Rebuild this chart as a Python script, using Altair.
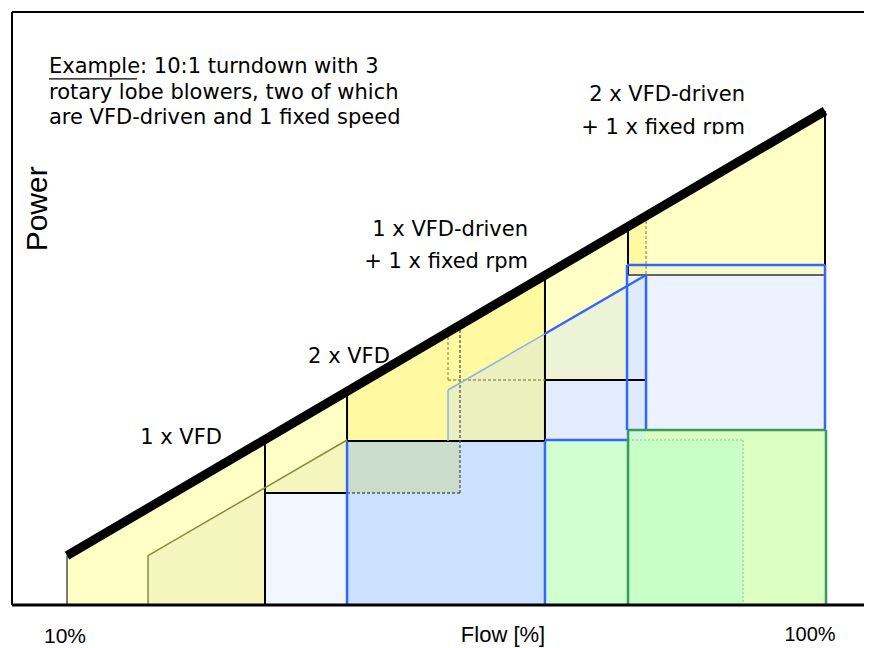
import altair as alt
import pandas as pd

# ---------------- data (flow %, power %) ----------------
LINE_FLOW = [10, 100]
LINE_POWER = [10, 100]

# filled regions: vertical-sided trapezoids (x0 -> x1, top at x0 / x1, flat bottom)
SHAPE_NAMES  = ["base", "olive", "bright", "bright2", "white1", "white2", "white3",
                "blue1", "olivebox", "bluetrap", "blue3", "green1", "green2"]
SHAPE_X0     = [10,    19.62, 43.25, 76.61, 33.51, 66.75, 76.61, 43.25, 43.25, 55.24, 76.49, 66.75, 76.61]
SHAPE_X1     = [100,   43.25, 66.75, 78.75, 43.25, 78.75, 100,   66.75, 56.66, 78.75, 100,   90.26, 100.12]
SHAPE_TOP0   = [10,    10,    43.25, 76.61, 22.67, 45.55, 66.8,  33.2,  33.2,  43.52, 68.83, 33.4,  35.43]
SHAPE_TOP1   = [100,   33.4,  66.75, 78.75, 22.67, 45.55, 66.8,  33.2,  33.2,  66.8,  68.83, 33.4,  35.43]
SHAPE_BOTTOM = [0,     0,     33.2,  66.8,  0,     33.2,  35.43, 0,     22.67, 33.2,  35.43, 0,     0]

# outline segments (flow, power) -> (flow, power), grouped by line style
SEGMENTS = {
    "black": [(33.51, 33.51, 33.51, 0), (33.51, 22.67, 43.25, 22.67), (43.25, 43.25, 43.25, 33.2),
              (43.25, 33.2, 66.75, 33.2), (66.75, 66.75, 66.75, 33.2), (66.75, 45.55, 78.75, 45.55),
              (76.61, 76.61, 76.61, 66.8), (100, 100, 100, 68.83)],
    "thin": [(10, 10, 10, 0), (76.61, 66.8, 100, 66.8)],
    "dark_dash": [(43.25, 22.67, 56.66, 22.67), (56.66, 56.66, 56.66, 22.67)],
    "olive": [(19.62, 10, 19.62, 0), (19.62, 10, 43.25, 33.4)],
    "olive_dash": [(55.24, 55.24, 55.24, 45.55), (55.24, 45.55, 66.75, 45.55), (78.75, 78.75, 78.75, 66.8)],
    "blue_light": [(55.24, 43.52, 55.24, 33.2), (55.24, 43.52, 66.75, 54.9)],
    "blue": [(43.25, 33.2, 43.25, 0), (66.75, 33.2, 66.75, 0), (66.75, 33.4, 76.61, 33.4),
             (66.75, 54.9, 78.75, 66.8), (78.75, 66.8, 78.75, 35.43), (76.49, 68.83, 100, 68.83),
             (76.49, 68.83, 76.49, 35.43), (100, 68.83, 100, 35.43)],
    "green_dash": [(76.61, 33.4, 90.26, 33.4), (90.26, 33.4, 90.26, 0)],
    "green": [(76.61, 35.43, 100.12, 35.43), (76.61, 35.43, 76.61, 0), (100.12, 35.43, 100.12, 0)],
}

# annotation texts
NOTE_LINES = ["Example: 10:1 turndown with 3", "rotary lobe blowers, two of which",
              "are VFD-driven and 1 fixed speed"]
NOTE_X = 7.86
NOTE_Y = [108.9, 103.6, 98.6]
UNDERLINE = (7.86, 18.31, 106.5)

STAGE_LABELS = ["1 x VFD", "2 x VFD", "1 x VFD-driven", "+ 1 x fixed rpm",
                "2 x VFD-driven", "+ 1 x fixed rpm"]
STAGE_X = [23.54, 43.48, 64.74, 64.74, 90.5, 90.5]
STAGE_Y = [33.8, 50.2, 75.9, 69.4, 103.2, 96.6]
STAGE_ALIGN = ["center", "center", "right", "right", "right", "right"]
MASK = (69.5, 92.3, 93.5, 95.3)   # white box clipping the lower edge of the last label

AXIS_TEXT = ["10%", "Flow [%]", "100%"]
AXIS_TEXT_X = [9.76, 61.77, 98.22]
AXIS_TEXT_Y = [-6.5, -6.1, -6.1]
AXIS_TEXT_SIZE = [21, 22, 20]

# ---------------- styles ----------------
FILL_STYLE = {
    "base": ("#FFFFC6", 1), "olive": ("#F4F6BE", 1), "bright": ("#FFF9A2", 1),
    "bright2": ("#FFF9A2", 1), "white1": ("#F2F6FF", 1), "white2": ("#F2F6FF", 1),
    "white3": ("#F2F6FF", 1), "blue1": ("#CCE0FF", 1), "olivebox": ("#CADDCC", 1),
    "bluetrap": ("#BFD8FF", 0.3), "blue3": ("#CCE0FF", 0.15), "green1": ("#D0FFD0", 1),
    "green2": ("#BFFFBF", 0.55),
}
LINE_STYLE = {
    "black": ("#000000", 2, None), "thin": ("#333333", 1.3, None),
    "dark_dash": ("#555555", 1.3, [3, 2]), "olive": ("#8A8A3E", 1.5, None),
    "olive_dash": ("#9A9A50", 1.3, [3, 2]), "blue_light": ("#8DB2E6", 1.5, None),
    "blue": ("#3366FF", 2.5, None), "green_dash": ("#A0DCA0", 1.5, [2, 2]),
    "green": ("#3A9A5C", 2.5, None),
}

W, H = 852, 593
xs = alt.Scale(domain=[3.47, 104.63], nice=False, zero=False)
ys = alt.Scale(domain=[0, 120.04], nice=False, zero=False)

layers = []
for i, name in enumerate(SHAPE_NAMES):
    df = pd.DataFrame({"flow": [SHAPE_X0[i], SHAPE_X1[i]],
                       "top": [SHAPE_TOP0[i], SHAPE_TOP1[i]],
                       "bottom": [SHAPE_BOTTOM[i], SHAPE_BOTTOM[i]]})
    color, op = FILL_STYLE[name]
    layers.append(alt.Chart(df).mark_area(color=color, opacity=op, interpolate="linear").encode(
        x=alt.X("flow:Q", scale=xs, axis=None),
        y=alt.Y("top:Q", scale=ys, axis=None, stack=None),
        y2="bottom:Q"))

for style, segs in SEGMENTS.items():
    df = pd.DataFrame(segs, columns=["x", "y", "x2", "y2"])
    color, w, dash = LINE_STYLE[style]
    kw = dict(color=color, strokeWidth=w)
    if dash:
        kw["strokeDash"] = dash
    layers.append(alt.Chart(df).mark_rule(**kw).encode(
        x=alt.X("x:Q", scale=xs, axis=None), y=alt.Y("y:Q", scale=ys, axis=None),
        x2="x2:Q", y2="y2:Q"))

# thick power line
layers.append(alt.Chart(pd.DataFrame({"flow": LINE_FLOW, "power": LINE_POWER})).mark_line(
    color="black", strokeWidth=9, strokeCap="butt").encode(
    x=alt.X("flow:Q", scale=xs, axis=None), y=alt.Y("power:Q", scale=ys, axis=None)))

# note text
note_df = pd.DataFrame({"t": NOTE_LINES, "x": [NOTE_X] * 3, "y": NOTE_Y})
layers.append(alt.Chart(note_df).mark_text(align="left", baseline="middle", font="DejaVu Sans",
                                           fontSize=21, color="black").encode(
    x=alt.X("x:Q", scale=xs, axis=None), y=alt.Y("y:Q", scale=ys, axis=None), text="t:N"))
ul = pd.DataFrame({"x": [UNDERLINE[0]], "x2": [UNDERLINE[1]], "y": [UNDERLINE[2]]})
layers.append(alt.Chart(ul).mark_rule(color="black", strokeWidth=1.3).encode(
    x=alt.X("x:Q", scale=xs, axis=None), x2="x2:Q", y=alt.Y("y:Q", scale=ys, axis=None)))

# stage labels
for al in ["center", "right"]:
    d = pd.DataFrame({"t": STAGE_LABELS, "x": STAGE_X, "y": STAGE_Y, "a": STAGE_ALIGN})
    d = d[d["a"] == al]
    layers.append(alt.Chart(d).mark_text(align=al, baseline="middle", font="DejaVu Sans",
                                         fontSize=21, color="black").encode(
        x=alt.X("x:Q", scale=xs, axis=None), y=alt.Y("y:Q", scale=ys, axis=None), text="t:N"))
mask = pd.DataFrame({"x": [MASK[0]], "x2": [MASK[1]], "y": [MASK[2]], "y2": [MASK[3]]})
layers.append(alt.Chart(mask).mark_rect(color="white").encode(
    x=alt.X("x:Q", scale=xs, axis=None), x2="x2:Q",
    y=alt.Y("y:Q", scale=ys, axis=None), y2="y2:Q"))

# axis texts
ax_df = pd.DataFrame({"t": AXIS_TEXT, "x": AXIS_TEXT_X, "y": AXIS_TEXT_Y, "s": AXIS_TEXT_SIZE})
layers.append(alt.Chart(ax_df).mark_text(align="center", baseline="middle", font="Liberation Sans",
                                         color="black").encode(
    x=alt.X("x:Q", scale=xs, axis=None), y=alt.Y("y:Q", scale=ys, axis=None), text="t:N",
    size=alt.Size("s:Q", scale=None, legend=None)))
layers.append(alt.Chart(pd.DataFrame({"t": ["Power"], "x": [6.56], "y": [80.2]})).mark_text(
    align="center", baseline="middle", font="Liberation Sans", fontSize=30, angle=270,
    color="black").encode(
    x=alt.X("x:Q", scale=xs, axis=None), y=alt.Y("y:Q", scale=ys, axis=None), text="t:N"))

# frame
frame = pd.DataFrame({"k": [0]})
layers.append(alt.Chart(frame).mark_rule(color="black", strokeWidth=2).encode(
    x=alt.value(0), y=alt.value(0), y2=alt.value(H)))
layers.append(alt.Chart(frame).mark_rule(color="black", strokeWidth=2).encode(
    x=alt.value(0), x2=alt.value(W), y=alt.value(0)))
layers.append(alt.Chart(frame).mark_rule(color="black", strokeWidth=3).encode(
    x=alt.value(0), x2=alt.value(W), y=alt.value(H)))

chart = alt.layer(*layers).properties(
    width=W, height=H,
    padding={"left": 4, "top": 4, "right": 0, "bottom": 42},
    autosize=alt.AutoSizeParams(type="none"),
).configure_view(stroke=None)

chart.save("out.html", embed_options={"renderer": "svg", "actions": False})
